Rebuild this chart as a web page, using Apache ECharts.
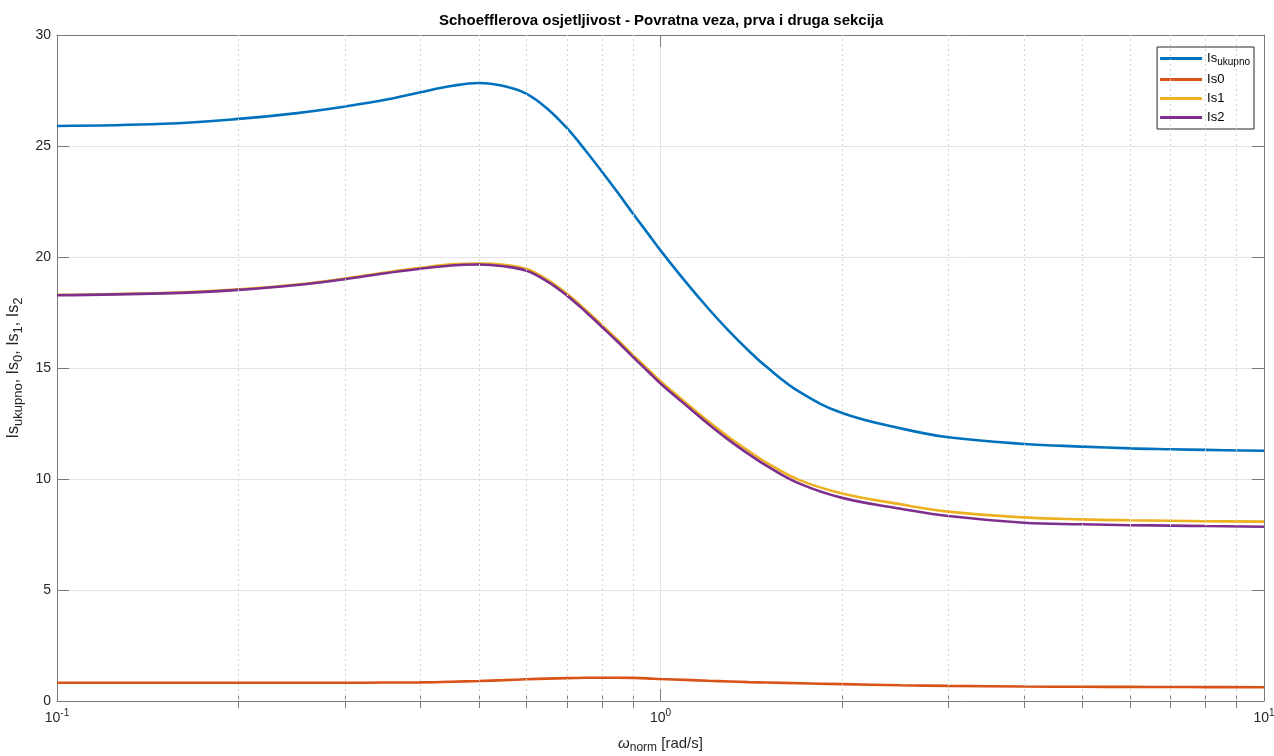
<!DOCTYPE html>
<html><head><meta charset="utf-8">
<script src="https://cdn.jsdelivr.net/npm/echarts@6/dist/echarts.min.js"></script>
<style>html,body{margin:0;padding:0;background:#fff;overflow:hidden}#c{width:1274px;height:756px}</style>
</head><body><div id="c"></div>
<script>
// ---- data ----
const freq = [0.1,0.15,0.2,0.25,0.3,0.35,0.4,0.45,0.5,0.55,0.6,0.65,0.7,0.75,0.8,0.85,0.9,0.95,1.0,1.1,1.2,1.3,1.4,1.5,1.7,2.0,2.5,3,4,5,6,7,8,10];
const isUkupno = [25.9,26.0,26.22,26.48,26.78,27.08,27.42,27.7,27.84,27.7,27.35,26.67,25.8,24.82,23.84,22.89,21.96,21.11,20.3,18.89,17.68,16.65,15.78,15.04,13.92,12.97,12.28,11.88,11.58,11.46,11.38,11.34,11.31,11.27];
const is0 = [0.82,0.82,0.82,0.82,0.82,0.83,0.84,0.87,0.9,0.94,0.98,1.01,1.03,1.045,1.05,1.05,1.04,1.02,0.99,0.95,0.91,0.88,0.85,0.83,0.8,0.76,0.71,0.68,0.65,0.64,0.635,0.63,0.625,0.62];
const is1 = [18.3,18.38,18.54,18.76,19.03,19.3,19.51,19.67,19.71,19.65,19.46,18.97,18.34,17.64,16.93,16.25,15.59,14.98,14.4,13.45,12.6,11.87,11.26,10.73,9.95,9.35,8.86,8.53,8.27,8.18,8.14,8.12,8.1,8.08];
const is2 = [18.28,18.36,18.52,18.74,19.0,19.27,19.47,19.62,19.66,19.58,19.38,18.89,18.26,17.56,16.85,16.17,15.5,14.89,14.3,13.34,12.48,11.74,11.12,10.59,9.79,9.15,8.66,8.33,8.03,7.96,7.92,7.9,7.88,7.85];
const seriesNames = ['Is_ukupno','Is0','Is1','Is2'];
const xMinorTicks = [0.2,0.3,0.4,0.5,0.6,0.7,0.8,0.9,2,3,4,5,6,7,8,9];
const xMin = 0.1, xMax = 10;
const yMin = 0, yMax = 30, yStep = 5;
const titleText = 'Schoefflerova osjetljivost - Povratna veza, prva i druga sekcija';

// ---- styling ----
const FONT = '"Liberation Sans", Arial, Helvetica, sans-serif';
const colors = ['#0072BD','#D95319','#EDB120','#7E2F8E'];
const axisCol = '#7a7a7a';
const txtCol = '#262626';
const gridCol = '#e3e3e3';

const chart = echarts.init(document.getElementById('c'), null, {renderer:'canvas', width:1274, height:756});
const zip = arr => freq.map((f,i)=>[f, arr[i]]);

const supRich = {
  b:{fontFamily:FONT,fontSize:14,color:txtCol,lineHeight:20,verticalAlign:'middle'},
  p:{fontFamily:FONT,fontSize:10,color:txtCol,lineHeight:20,verticalAlign:'top'}
};
function logAxis(extra){
  return Object.assign({type:'log', logBase:10, min:xMin, max:xMax, gridIndex:0}, extra);
}
const noLine = {show:false};

const option = {
  animation:false,
  backgroundColor:'#ffffff',
  title:{text:titleText, left:439, top:13, padding:0,
    textStyle:{fontFamily:FONT,fontSize:15,fontWeight:'bold',color:'#000'}},
  grid:{left:57, right:10, top:35, bottom:55, containLabel:false, outerBoundsMode:'none'},
  legend:{
    orient:'vertical', right:20, top:47,
    data:seriesNames,
    icon:'rect', itemWidth:42, itemHeight:3, itemGap:6,
    padding:[5,4,5,3],
    backgroundColor:'#fff', borderColor:'#262626', borderWidth:1,
    formatter: n => n==='Is_ukupno' ? '{a|Is}{s|ukupno}' : '{a|'+n+'}',
    textStyle:{fontFamily:FONT,fontSize:13,color:'#000',
      rich:{a:{fontFamily:FONT,fontSize:13,color:'#000',lineHeight:17,verticalAlign:'middle'},
            s:{fontFamily:FONT,fontSize:10,color:'#000',lineHeight:17,verticalAlign:'bottom'}}}
  },
  xAxis:[
    logAxis({position:'bottom',
      axisLine:{show:true,onZero:false,lineStyle:{color:axisCol,width:1}},
      axisTick:{show:true,inside:true,length:12,lineStyle:{color:axisCol}},
      axisLabel:{show:true,margin:7,formatter:v=>'{b|10}{p|'+Math.round(Math.log10(v))+'}',rich:supRich},
      splitLine:{show:true,lineStyle:{color:gridCol,width:1}},
      name:'{w|ω}{s|norm}{a| [rad/s]}', nameLocation:'middle', nameGap:33,
      nameTextStyle:{rich:{
        w:{fontFamily:FONT,fontSize:15,fontStyle:'italic',color:txtCol,lineHeight:20,verticalAlign:'middle'},
        s:{fontFamily:FONT,fontSize:12,color:txtCol,lineHeight:20,verticalAlign:'bottom'},
        a:{fontFamily:FONT,fontSize:15,color:txtCol,lineHeight:20,verticalAlign:'middle'}}}
    }),
    logAxis({position:'bottom', axisLine:noLine, axisLabel:{show:false}, splitLine:{show:false},
      axisTick:{show:true,inside:true,length:7,customValues:xMinorTicks,lineStyle:{color:axisCol}}}),
    logAxis({position:'top', axisLine:{show:true,onZero:false,lineStyle:{color:axisCol,width:1}},
      axisLabel:{show:false}, splitLine:{show:false},
      axisTick:{show:true,inside:true,length:12,lineStyle:{color:axisCol}}}),
    logAxis({position:'top', axisLine:noLine, axisLabel:{show:false}, splitLine:{show:false},
      axisTick:{show:true,inside:true,length:7,customValues:xMinorTicks,lineStyle:{color:axisCol}}})
  ],
  yAxis:[
    {type:'value', min:yMin, max:yMax, interval:yStep, position:'left',
      axisLine:{show:true,onZero:false,lineStyle:{color:axisCol,width:1}},
      axisTick:{show:true,inside:true,length:12,lineStyle:{color:axisCol}},
      axisLabel:{margin:6,fontFamily:FONT,fontSize:14,color:txtCol},
      splitLine:{show:true,lineStyle:{color:gridCol,width:1}},
      name:'{a|Is}{s|ukupno}{a|, Is}{s|0}{a|, Is}{s|1}{a|, Is}{s|2}',
      nameLocation:'middle', nameRotate:90, nameGap:27,
      nameTextStyle:{rich:{
        a:{fontFamily:FONT,fontSize:16,color:txtCol,lineHeight:21,verticalAlign:'middle'},
        s:{fontFamily:FONT,fontSize:13,color:txtCol,lineHeight:21,verticalAlign:'bottom'}}}
    },
    {type:'value', min:yMin, max:yMax, interval:yStep, position:'right',
      axisLine:{show:true,onZero:false,lineStyle:{color:axisCol,width:1}},
      axisTick:{show:true,inside:true,length:12,lineStyle:{color:axisCol}},
      axisLabel:{show:false}, splitLine:{show:false}}
  ],
  series:[
    {type:'line', name:'_grid', xAxisIndex:0, yAxisIndex:0, data:[], z:1, silent:true,
      markLine:{silent:true, symbol:'none', label:{show:false},
        lineStyle:{color:'#d4d4d4', type:[2,3], width:1},
        data: xMinorTicks.map(v=>({xAxis:v}))}},
    ...[isUkupno,is0,is1,is2].map((arr,i)=>({
      type:'line', name:seriesNames[i], xAxisIndex:0, yAxisIndex:0,
      data:zip(arr), showSymbol:false, symbol:'none', smooth:0.4,
      lineStyle:{color:colors[i], width:2.6}, itemStyle:{color:colors[i]}, z:3
    }))
  ]
};
chart.setOption(option);
</script></body></html>
